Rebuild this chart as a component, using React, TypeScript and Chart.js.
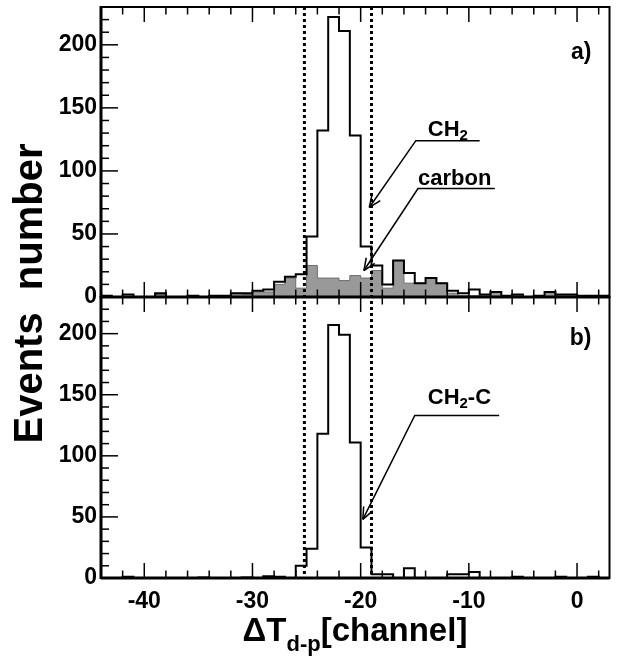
import React, { useEffect, useRef } from "react";
import { Chart, registerables } from "chart.js";

Chart.register(...registerables);

// ---- data -----------------------------------------------------------------
const BIN_START = -44; // left edge of first bin (channel)
const X_MIN = -44;
const X_MAX = 3;
const Y_MAX = 230;

// bins of 1 channel from -44 to +3 (47 bins)
const ch2Counts = [
  1, 0, 2, 0, 0, 3, 0, 0, 1, 0, 1, 1, 3, 3, 5, 6, 12, 16, 18, 48, 132, 222, 211, 128,
  40, 25, 10, 29, 19, 11, 15, 11, 5, 3, 6, 2, 4, 1, 2, 0, 1, 4, 2, 2, 1, 1, 1,
];
const carbonCounts = [
  0, 0, 0, 0, 0, 2, 0, 0, 0, 0, 1, 1, 3, 2, 4, 4, 10, 15, 7, 25, 15, 15, 13, 17,
  15, 21, 7, 29, 11, 11, 15, 11, 3, 1, 1, 2, 4, 1, 1, 0, 1, 4, 2, 2, 1, 1, 1,
];
const subtractedCounts = [
  0, 0, 1, 0, 0, 0, 0, 0, 0, 0.5, 0, 0, 0, 0.5, 0, 1.5, 1, 0, 10, 24, 118, 207, 199, 111,
  25, 3, 3, 0, 8, 0, 0, 0, 3, 3, 5, 0, 0, 0, 1, 0, 0, 0, 1, 0, 0, 1, 0,
];

const xMajorTicks = [-40, -30, -20, -10, 0];
const yMajorTicks = [0, 50, 100, 150, 200];
const cutPositions = [-25.2, -19];

// annotation pointer paths in data units: [end of bar, elbow, arrow tip]
const ch2Pointer = [[-9.0, 124], [-14.9, 124], [-19.2, 71]];
const carbonPointer = [[-7.6, 86], [-14.7, 86], [-19.7, 21]];
const diffPointer = [[-7.2, 133], [-15.0, 133], [-19.8, 48]];

const FONT = "'Liberation Sans', Arial, Helvetica, sans-serif";

function histPoints(counts: number[]) {
  const pts = counts.map((c, i) => ({ x: BIN_START + i, y: c }));
  pts.push({ x: BIN_START + counts.length, y: counts[counts.length - 1] });
  return pts;
}

const overlay = {
  id: "overlay",
  afterDatasetsDraw(chart: any) {
    const { ctx } = chart;
    const xs = chart.scales.x;
    const ya = chart.scales.ya;
    const yb = chart.scales.yb;
    const panels = [ya, yb];
    const { left: L, right: R, top: T, bottom: B } = chart.chartArea;

    const seg = (x0: number, y0: number, x1: number, y1: number) => {
      ctx.beginPath();
      ctx.moveTo(x0, y0);
      ctx.lineTo(x1, y1);
      ctx.stroke();
    };

    ctx.save();
    ctx.strokeStyle = "#000";
    ctx.fillStyle = "#000";

    // dotted cut lines through both panels
    ctx.setLineDash([3, 3]);
    ctx.lineWidth = 3;
    for (const c of cutPositions) {
      const px = xs.getPixelForValue(c);
      seg(px, T, px, B);
    }
    ctx.setLineDash([]);

    for (const s of panels) {
      ctx.lineWidth = 1.5;
      for (let v = -42; v <= 2; v += 2) {
        const px = xs.getPixelForValue(v);
        const len = v % 10 === 0 ? 15 : 7.5;
        seg(px, s.bottom, px, s.bottom - len);
        seg(px, s.top, px, s.top + len);
      }
      for (let v = 10; v < Y_MAX; v += 10) {
        const py = s.getPixelForValue(v);
        const len = v % 50 === 0 ? 17 : 8;
        seg(L, py, L + len, py);
      }
      ctx.lineWidth = 2;
      ctx.strokeRect(L, s.top, R - L, s.bottom - s.top);
      ctx.lineWidth = 3;
      seg(L, s.top - 1, L, s.bottom + 1);
      seg(L, s.bottom, R, s.bottom);
    }

    // pointers
    const pointer = (path: number[][], s: any) => {
      const p = path.map(([x, y]) => [xs.getPixelForValue(x), s.getPixelForValue(y)]);
      ctx.lineWidth = 1.5;
      ctx.beginPath();
      ctx.moveTo(p[0][0], p[0][1]);
      ctx.lineTo(p[1][0], p[1][1]);
      ctx.lineTo(p[2][0], p[2][1]);
      ctx.stroke();
      const ang = Math.atan2(p[2][1] - p[1][1], p[2][0] - p[1][0]);
      const h = 13;
      for (const d of [0.4, -0.4]) {
        seg(p[2][0], p[2][1], p[2][0] - h * Math.cos(ang + d), p[2][1] - h * Math.sin(ang + d));
      }
      return p;
    };

    const big = `bold 22px ${FONT}`;
    const sub = `bold 15px ${FONT}`;
    ctx.textBaseline = "alphabetic";
    ctx.textAlign = "left";

    let p = pointer(ch2Pointer, ya);
    ctx.font = big;
    let tx = p[1][0] + 12;
    ctx.fillText("CH", tx, p[1][1] - 5);
    tx += ctx.measureText("CH").width;
    ctx.font = sub;
    ctx.fillText("2", tx, p[1][1] - 1);

    p = pointer(carbonPointer, ya);
    ctx.font = big;
    ctx.fillText("carbon", p[1][0], p[1][1] - 4);

    p = pointer(diffPointer, yb);
    ctx.font = big;
    tx = p[1][0] + 13;
    ctx.fillText("CH", tx, p[1][1] - 12);
    tx += ctx.measureText("CH").width;
    ctx.font = sub;
    ctx.fillText("2", tx, p[1][1] - 8);
    tx += ctx.measureText("2").width;
    ctx.font = big;
    ctx.fillText("-C", tx, p[1][1] - 12);

    // panel labels
    ctx.font = `bold 23px ${FONT}`;
    ctx.textAlign = "right";
    ctx.fillText("a)", R - 18, ya.top + 52);
    ctx.fillText("b)", R - 18, yb.top + 48);

    // y title
    ctx.save();
    ctx.translate(31, (T + B) / 2 + 1);
    ctx.rotate(-Math.PI / 2);
    ctx.font = `bold 40px ${FONT}`;
    ctx.textAlign = "center";
    ctx.textBaseline = "middle";
    ctx.fillText("Events  number", 0, 0);
    ctx.restore();

    // x title
    const tBig = `bold 33px ${FONT}`;
    const tSub = `bold 22px ${FONT}`;
    ctx.font = tBig;
    const w1 = ctx.measureText("\u0394T").width;
    const w3 = ctx.measureText("[channel]").width;
    ctx.font = tSub;
    const w2 = ctx.measureText("d-p").width;
    let x0 = 355 - (w1 + w2 + w3) / 2;
    const base = 641;
    ctx.textAlign = "left";
    ctx.textBaseline = "alphabetic";
    ctx.font = tBig;
    ctx.fillText("\u0394T", x0, base);
    x0 += w1;
    ctx.font = tSub;
    ctx.fillText("d-p", x0, base + 10);
    x0 += w2;
    ctx.font = tBig;
    ctx.fillText("[channel]", x0, base);

    ctx.restore();
  },
};

export default function App() {
  const ref = useRef<HTMLCanvasElement | null>(null);

  useEffect(() => {
    if (!ref.current) return;
    const tickFont = { family: FONT, size: 23, weight: "bold" as const };
    const yScale = (weight: number) => ({
      type: "linear" as const,
      position: "left" as const,
      stack: "panels",
      stackWeight: weight,
      min: 0,
      max: Y_MAX,
      grid: { display: false, drawTicks: false },
      border: { display: false },
      ticks: {
        font: tickFont,
        color: "#000",
        padding: 4,
        autoSkip: false,
        callback: (v: any) => String(v),
      },
      afterBuildTicks: (s: any) => {
        s.ticks = yMajorTicks.map((v) => ({ value: v }));
      },
      afterFit: (s: any) => {
        s.width = 93;
        s.paddingTop = 0;
        s.paddingBottom = 0;
      },
    });

    const chart = new Chart(ref.current, {
      type: "line",
      data: {
        datasets: [
          {
            label: "CH2",
            data: histPoints(ch2Counts),
            yAxisID: "ya",
            stepped: "before",
            borderColor: "#000",
            borderWidth: 2,
            pointRadius: 0,
            fill: false,
          },
          {
            label: "carbon",
            data: histPoints(carbonCounts),
            yAxisID: "ya",
            stepped: "before",
            borderColor: "#6e6e6e",
            borderWidth: 1,
            backgroundColor: "#999999",
            pointRadius: 0,
            fill: "origin",
          },
          {
            label: "CH2-C",
            data: histPoints(subtractedCounts),
            yAxisID: "yb",
            stepped: "before",
            borderColor: "#000",
            borderWidth: 2,
            pointRadius: 0,
            fill: false,
          },
        ],
      },
      options: {
        responsive: false,
        animation: false,
        devicePixelRatio: 1,
        layout: { padding: { left: 8, top: 7, right: 25.5, bottom: 0 } },
        plugins: { legend: { display: false }, tooltip: { enabled: false } },
        scales: {
          x: {
            type: "linear",
            min: X_MIN,
            max: X_MAX,
            grid: { display: false, drawTicks: false },
            border: { display: false },
            ticks: {
              font: tickFont,
              color: "#000",
              padding: 10,
              maxRotation: 0,
              autoSkip: false,
              callback: (v: any) => String(v),
            },
            afterBuildTicks: (s: any) => {
              s.ticks = xMajorTicks.map((v) => ({ value: v }));
            },
            afterFit: (s: any) => {
              s.height = 81;
              s.paddingLeft = 0;
              s.paddingRight = 0;
            },
          },
          yb: yScale(281),
          ya: yScale(290),
        },
      },
      plugins: [overlay],
    });
    return () => chart.destroy();
  }, []);

  return (
    <div style={{ position: "absolute", left: 0, top: 0, width: 635, height: 659, background: "#fff" }}>
      <canvas ref={ref} width={635} height={659} style={{ display: "block" }} />
    </div>
  );
}
